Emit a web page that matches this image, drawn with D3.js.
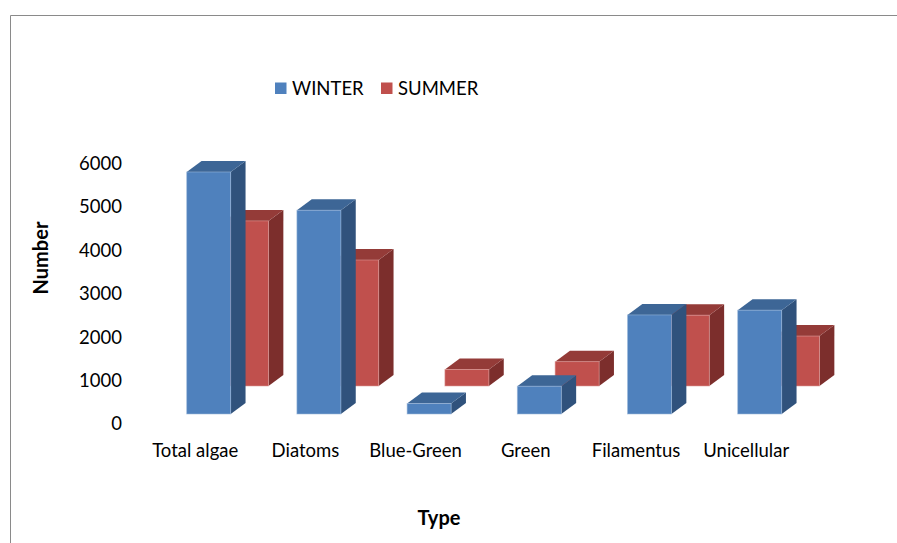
<!DOCTYPE html>
<html>
<head>
<meta charset="utf-8">
<script src="https://cdn.jsdelivr.net/npm/d3@7"></script>
<style>
  html, body { margin: 0; padding: 0; background: #fff; }
  svg { display: block; font-family: Lato, "Open Sans", sans-serif; }
</style>
</head>
<body>
<svg id="chart" width="897" height="543"></svg>
<script>
// Algae counts by type, winter vs summer
const categories = ["Total algae", "Diatoms", "Blue-Green", "Green", "Filamentus", "Unicellular"];
const seriesNames = ["WINTER", "SUMMER"];
const winterValues = [5570, 4690, 240, 640, 2280, 2390];
const summerValues = [3800, 2900, 380, 560, 1630, 1150];
const yTicks = [0, 1000, 2000, 3000, 4000, 5000, 6000];

const seriesValues = { WINTER: winterValues, SUMMER: summerValues };
const palette = {
  WINTER: { front: "#4F81BD", top: "#3D6696", side: "#30527C", edge: "#9DB9DC" },
  SUMMER: { front: "#C0504D", top: "#943B38", side: "#7C2E2C", edge: "#DE9D9B" }
};
const labelFont = "18.5px";
const titleFont = "20px";

const svg = d3.select("#chart");

// frame of the chart area
svg.append("path")
  .attr("d", "M10.5,543 L10.5,15.5 L897,15.5")
  .attr("fill", "none")
  .attr("stroke", "#8a8a8a")
  .attr("stroke-width", 1);

// value scale (front edge of the floor)
const floorY = 424;
const y = d3.scaleLinear().domain([0, 6000]).range([floorY, 163.3]);

// category positions along the floor front edge
const x = d3.scaleBand().domain(categories).range([140.1, 801.3]).padding(0);

// depth of each series row (in vertical pixels, oblique projection)
const slant = 1.35;             // horizontal shift per pixel of depth
const depth = d3.scaleOrdinal().domain(seriesNames).range([10, 38]);
const barDepth = 11;
const barWidth = 44;

const yAxis = d3.axisLeft(y).tickValues(yTicks).tickSize(0).tickPadding(0).tickFormat(d3.format("d"));
const gy = svg.append("g").attr("transform", "translate(122,0)").call(yAxis);
gy.select(".domain").remove();
gy.selectAll("text").attr("font-size", labelFont).attr("fill", "#000")
  .attr("font-family", "Lato, 'Open Sans', sans-serif");

const xAxis = d3.axisBottom(x).tickSize(0).tickPadding(0);
const gx = svg.append("g").call(xAxis);
gx.select(".domain").remove();
gx.selectAll("text")
  .attr("font-size", labelFont).attr("fill", "#000")
  .attr("font-family", "Lato, 'Open Sans', sans-serif")
  .attr("y", 457).attr("dy", null);

// 3D columns: back row (summer) first, then front row (winter)
const barsG = svg.append("g");
[...seriesNames].reverse().forEach(name => {
  const c = palette[name];
  const d0 = depth(name);
  const rows = categories.map((cat, i) => ({ cat, v: seriesValues[name][i] }));
  const g = barsG.append("g").attr("class", "series-" + name.toLowerCase());
  rows.forEach(r => {
    const cx = x(r.cat) + x.bandwidth() / 2 + d0 * slant;
    const x0 = cx - barWidth / 2, x1 = cx + barWidth / 2;
    const base = floorY - d0;
    const top = base - (floorY - y(r.v));
    const ox = barDepth * slant, oy = -barDepth;
    // side face
    g.append("path")
      .attr("d", `M${x1},${base} L${x1 + ox},${base + oy} L${x1 + ox},${top + oy} L${x1},${top} Z`)
      .attr("fill", c.side);
    // top face
    g.append("path")
      .attr("d", `M${x0},${top} L${x0 + ox},${top + oy} L${x1 + ox},${top + oy} L${x1},${top} Z`)
      .attr("fill", c.top);
    // front face
    g.append("rect")
      .attr("x", x0).attr("y", top)
      .attr("width", barWidth).attr("height", base - top)
      .attr("fill", c.front)
      .attr("stroke", c.edge).attr("stroke-width", 0.8).attr("stroke-opacity", 0.7);
  });
});

// legend
const legend = svg.append("g");
const legendX = [275, 381];
seriesNames.forEach((name, i) => {
  legend.append("rect")
    .attr("x", legendX[i]).attr("y", 82.5)
    .attr("width", 11.5).attr("height", 11.5)
    .attr("fill", palette[name].front);
  legend.append("text")
    .attr("x", legendX[i] + 17).attr("y", 95)
    .attr("font-size", labelFont).attr("fill", "#000")
    .text(name);
});

// axis titles
svg.append("text")
  .attr("transform", "translate(48,258) rotate(-90)")
  .attr("text-anchor", "middle")
  .attr("font-size", titleFont).attr("font-weight", "bold")
  .text("Number");

svg.append("text")
  .attr("x", 439).attr("y", 525)
  .attr("text-anchor", "middle")
  .attr("font-size", titleFont).attr("font-weight", "bold")
  .text("Type");
</script>
</body>
</html>
